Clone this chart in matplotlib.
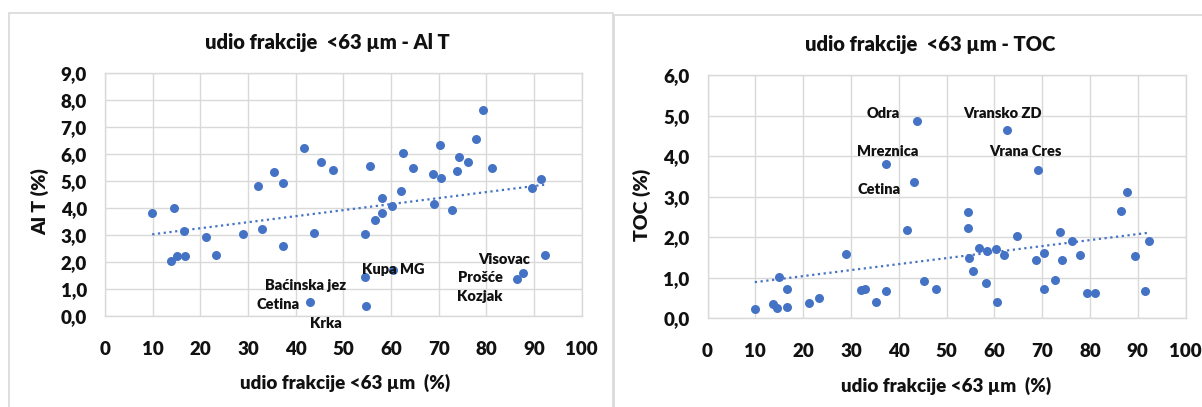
import numpy as np
import matplotlib
matplotlib.use("Agg")
import matplotlib.pyplot as plt
from matplotlib.patches import Rectangle
from matplotlib.ticker import FuncFormatter

plt.rcParams['font.family'] = ['Lato', 'DejaVu Sans']
WT = 'heavy'

# ---- data: Al T chart ----
x_al = [9.9, 14.5, 13.9, 15.0, 16.6, 16.8, 21.2, 23.2, 28.9, 32.1, 33.0, 35.4,
        37.4, 37.4, 41.7, 43.1, 43.8, 45.3, 47.8, 54.5, 54.5, 54.7, 55.5, 56.7,
        58.1, 58.1, 60.3, 60.5, 62.0, 62.6, 64.6, 68.8, 69.0, 70.3, 70.4, 72.7,
        73.8, 74.2, 76.2, 77.9, 79.3, 81.1, 86.4, 87.7, 89.5, 91.4, 92.4]
al_t = [3.81, 3.99, 2.04, 2.23, 3.15, 2.23, 2.93, 2.24, 3.03, 4.83, 3.21, 5.32,
        4.94, 2.57, 6.24, 0.51, 3.07, 5.70, 5.41, 3.03, 1.42, 0.35, 5.54, 3.57,
        3.81, 4.38, 4.09, 1.70, 4.64, 6.05, 5.50, 5.25, 4.15, 6.32, 5.12, 3.93,
        5.38, 5.88, 5.72, 6.55, 7.63, 5.50, 1.37, 1.59, 4.73, 5.08, 2.27]
al_labels = ["Baćinska jez", "Cetina", "Krka", "Kupa MG", "Visovac", "Prošće", "Kozjak"]
al_label_x = [42.0, 36.2, 46.4, 60.5, 83.7, 78.7, 78.7]
al_label_y = [1.11, 0.41, -0.30, 1.73, 2.10, 1.42, 0.72]

# ---- data: TOC chart ----
x_toc = [9.9, 13.8, 14.5, 15.0, 16.6, 16.7, 21.3, 23.3, 29.0, 32.1, 33.0, 35.3,
         37.4, 37.4, 41.7, 43.2, 43.8, 45.3, 47.8, 54.5, 54.5, 54.7, 55.5, 56.7,
         58.2, 58.4, 60.4, 60.5, 62.0, 62.7, 64.7, 68.8, 69.1, 70.4, 70.3, 72.8,
         73.8, 74.2, 76.2, 77.9, 79.3, 81.1, 86.5, 87.7, 89.5, 91.5, 92.4]
toc = [0.22, 0.35, 0.25, 1.01, 0.29, 0.72, 0.39, 0.50, 1.58, 0.69, 0.72, 0.40,
       3.80, 0.67, 2.18, 3.37, 4.88, 0.92, 0.72, 2.62, 2.24, 1.50, 1.18, 1.74,
       0.88, 1.66, 1.70, 0.40, 1.56, 4.64, 2.02, 1.43, 3.66, 1.62, 0.73, 0.95,
       2.12, 1.45, 1.92, 1.57, 0.62, 0.62, 2.65, 3.12, 1.53, 0.68, 1.92]
toc_labels = ["Odra", "Vransko ZD", "Mreznica", "Vrana Cres", "Cetina"]
toc_label_x = [36.7, 61.8, 37.8, 66.4, 35.8]
toc_label_y = [5.05, 5.05, 4.11, 4.11, 3.18]

x_ticks = list(range(0, 101, 10))
al_ticks = list(range(0, 10))
toc_ticks = list(range(0, 7))

BLUE = '#4472C4'
GRID = '#d9d9d9'
TXT = '#111111'
W, H = 1202, 407

fig = plt.figure(figsize=(W / 100, H / 100), dpi=100)

# panel borders
fig.patches.append(Rectangle((9 / W, -0.1), (612.5 - 9) / W, 1.1 - 13.3 / H,
                             transform=fig.transFigure, fill=False,
                             edgecolor=GRID, linewidth=1.2))
fig.patches.append(Rectangle((613.5 / W, -0.1), 0.6, 1.1 - 15.3 / H,
                             transform=fig.transFigure, fill=False,
                             edgecolor=GRID, linewidth=1.2))

comma = FuncFormatter(lambda v, p: f"{v:.1f}".replace('.', ','))


def make(ax, x, y, yticks, ylabel, labels, lx, ly):
    ax.scatter(x, y, s=42, color=BLUE, zorder=3, linewidths=0)
    xa = np.array(x)
    ya = np.array(y)
    k, b = np.polyfit(xa, ya, 1)
    xs = np.array([xa.min(), xa.max()])
    ax.plot(xs, k * xs + b, linestyle=(0, (1, 1.6)), color=BLUE, linewidth=1.6, zorder=2)
    for t, tx, ty in zip(labels, lx, ly):
        ax.text(tx, ty, t, ha='center', va='center', fontsize=10.5,
                fontweight=WT, color=TXT, zorder=4, clip_on=False)
    ax.set_xlim(0, 100)
    ax.set_ylim(yticks[0], yticks[-1])
    ax.set_xticks(x_ticks)
    ax.set_yticks(yticks)
    ax.yaxis.set_major_formatter(comma)
    ax.grid(True, color=GRID, linewidth=1.0)
    ax.set_axisbelow(True)
    for s in ax.spines.values():
        s.set_color(GRID)
        s.set_linewidth(1.0)
    ax.tick_params(length=0, labelsize=13.5, pad=0, labelcolor=TXT)
    ax.tick_params(axis='y', pad=13)
    ax.tick_params(axis='x', pad=18)
    for lab in ax.get_xticklabels() + ax.get_yticklabels():
        lab.set_fontweight(WT)
    ax.set_ylabel(ylabel, fontsize=14, fontweight=WT, color=TXT)
    ax.set_xlabel("udio frakcije <63 µm  (%)", fontsize=13.5, fontweight=WT, color=TXT)


ax1 = fig.add_axes([105 / W, (H - 315.7) / H, (581.7 - 105) / W, (315.7 - 73.3) / H])
make(ax1, x_al, al_t, al_ticks, "Al T (%)", al_labels, al_label_x, al_label_y)
ax2 = fig.add_axes([707.5 / W, (H - 318.3) / H, (1185.5 - 707.5) / W, (318.3 - 75.3) / H])
make(ax2, x_toc, toc, toc_ticks, "TOC (%)", toc_labels, toc_label_x, toc_label_y)

for ax, lx, ty in [(ax1, 345, 383), (ax2, 946, 386)]:
    ax.xaxis.set_label_coords(lx / W, (H - ty) / H, transform=fig.transFigure)
    ax.xaxis.label.set_va('center')
for ax, yx, yy in [(ax1, 40, 202), (ax2, 642, 205)]:
    ax.yaxis.set_label_coords(yx / W, (H - yy) / H, transform=fig.transFigure)
    ax.yaxis.label.set_va('center')

fig.text(327 / W, (H - 43) / H, "udio frakcije  <63 µm - Al T", ha='center', va='center',
         fontsize=14.5, fontweight=WT, color=TXT)
fig.text(930 / W, (H - 45) / H, "udio frakcije  <63 µm - TOC", ha='center', va='center',
         fontsize=14.5, fontweight=WT, color=TXT)

fig.savefig("out.png", dpi=100)
